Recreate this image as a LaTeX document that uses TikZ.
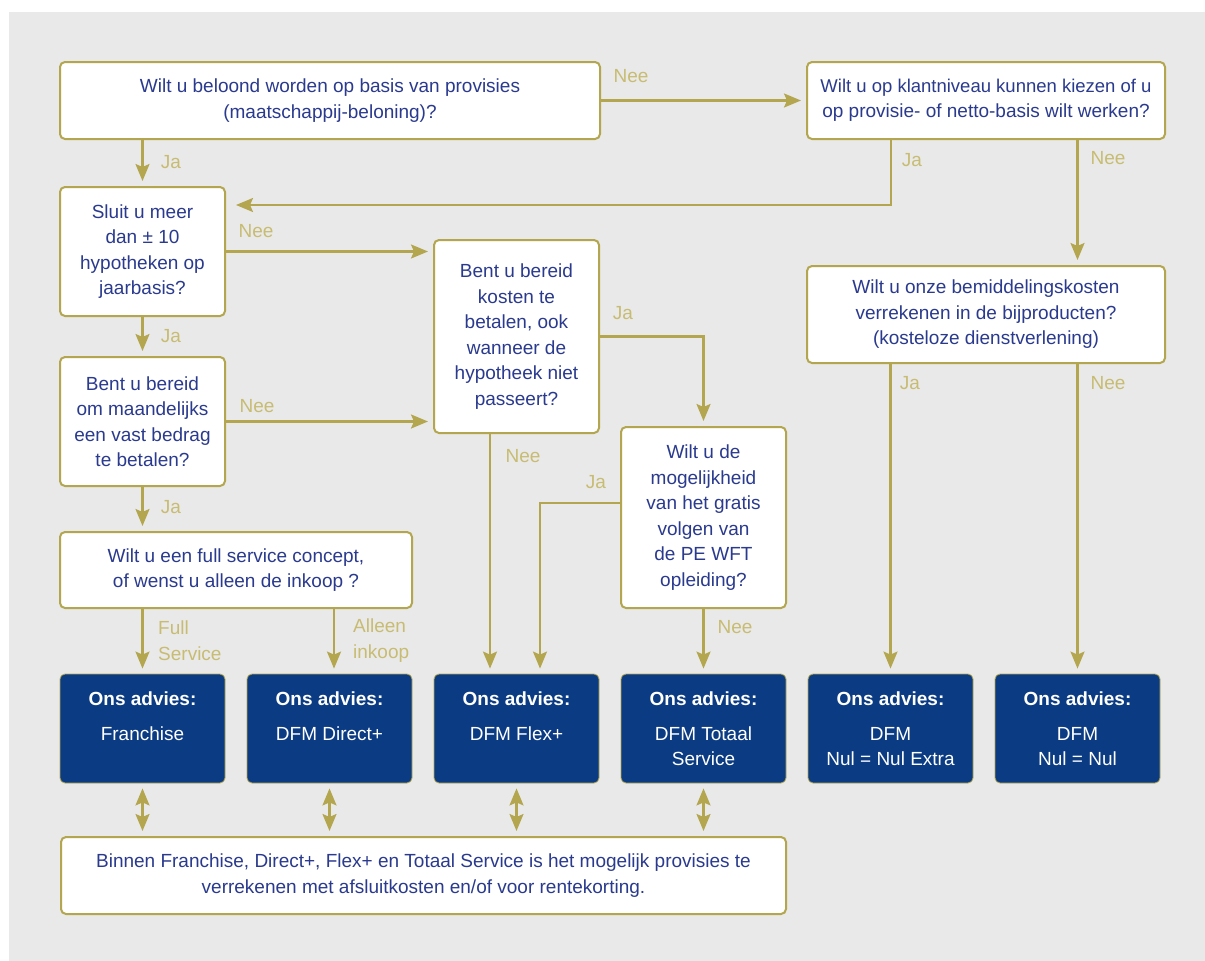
\documentclass[tikz,border=0pt]{standalone}
\usepackage{fontspec}
\setmainfont{Liberation Sans}
\usetikzlibrary{arrows.meta}
\definecolor{bgc}{HTML}{E9E9E9}
\definecolor{gold}{HTML}{B3A64F}
\definecolor{goldtxt}{HTML}{C8BC72}
\definecolor{navy}{HTML}{0B3B82}
\definecolor{qtxt}{HTML}{2A3A8E}
\begin{document}
\begin{tikzpicture}[x=1pt,y=-1pt,
  qbox/.style={draw=gold, line width=2pt, fill=white, rounded corners=5pt, align=center,
    text=qtxt, font=\fontsize{19}{25.5}\selectfont, inner sep=0pt},
  rbox/.style={draw=gold, line width=0.8pt, fill=navy, rounded corners=5pt,
    minimum width=165pt, minimum height=109pt, inner sep=0pt},
  rtext/.style={text=white, align=center, font=\fontsize{19}{25.5}\selectfont, anchor=north, inner sep=0pt},
  tip/.tip={Stealth[length=17pt,width=14pt,inset=3pt]},
  conn/.style={draw=gold, line width=2.1pt, -tip, shorten >=5pt},
  dconn/.style={draw=gold, line width=2.1pt, tip-tip, shorten >=5pt, shorten <=5pt},
  lbl/.style={text=goldtxt, font=\fontsize{19}{25.5}\selectfont, inner sep=0pt}
]
\useasboundingbox (0,0) rectangle (1205,961);
\fill[white] (0,0) rectangle (1205,961);
\fill[bgc] (9,12) rectangle (1205,961);

% question boxes
\node[qbox, minimum width=540pt, minimum height=77pt] (A) at (330,100.5)
  {Wilt u beloond worden op basis van provisies\\(maatschappij-beloning)?};
\node[qbox, minimum width=358pt, minimum height=77pt] (C) at (986,100.5)
  {\fontsize{18.5}{25.5}\selectfont Wilt u op klantniveau kunnen kiezen of u\\op provisie- of netto-basis wilt werken?};
\node[qbox, minimum width=165pt, minimum height=129pt] (B) at (142.5,251.5)
  {Sluit u meer\\dan ± 10\\hypotheken op\\jaarbasis?};
\node[qbox, minimum width=165pt, minimum height=193pt] (D) at (516.5,336.5)
  {Bent u bereid\\kosten te\\betalen, ook\\wanneer de\\hypotheek niet\\passeert?};
\node[qbox, minimum width=358pt, minimum height=97pt] (E) at (986,314.5)
  {Wilt u onze bemiddelingskosten\\verrekenen in de bijproducten?\\(kosteloze dienstverlening)};
\node[qbox, minimum width=165pt, minimum height=129pt] (G) at (142.5,421.5)
  {Bent u bereid\\om maandelijks\\een vast bedrag\\te betalen?};
\node[qbox, minimum width=165pt, minimum height=181pt] (F) at (703.5,517.5)
  {Wilt u de\\mogelijkheid\\van het gratis\\volgen van\\de PE WFT\\opleiding?};
\node[qbox, minimum width=352pt, minimum height=76pt] (H) at (236,570)
  {Wilt u een full service concept,\\of wenst u alleen de inkoop ?};
\node[qbox, minimum width=725pt, minimum height=77pt] (K) at (423.5,875.5)
  {Binnen Franchise, Direct+, Flex+ en Totaal Service is het mogelijk provisies te\\verrekenen met afsluitkosten en/of voor rentekorting.};

% result boxes
\node[rbox] (R1) at (142.5,728.5) {};
\node[rbox] (R2) at (329.5,728.5) {};
\node[rbox] (R3) at (516.5,728.5) {};
\node[rbox] (R4) at (703.5,728.5) {};
\node[rbox] (R5) at (890.5,728.5) {};
\node[rbox] (R6) at (1077.5,728.5) {};
\node[rtext] (t1) at (142.5,692) {\textbf{Ons advies:}\\[9pt]Franchise};
\node[rtext] (t2) at (329.5,692) {\textbf{Ons advies:}\\[9pt]DFM Direct+};
\node[rtext] (t3) at (516.5,692) {\textbf{Ons advies:}\\[9pt]DFM Flex+};
\node[rtext] (t4) at (703.5,692) {\textbf{Ons advies:}\\[9pt]DFM Totaal\\Service};
\node[rtext] (t5) at (890.5,692) {\textbf{Ons advies:}\\[9pt]DFM\\Nul = Nul Extra};
\node[rtext] (t6) at (1077.5,692) {\textbf{Ons advies:}\\[9pt]DFM\\Nul = Nul};

% helper coordinates
\coordinate (cj) at (891,205);
\coordinate (dn) at (490,0);
\coordinate (fj) at (540,503);
\coordinate (hj) at (334,0);

% connectors
\draw[conn] (B.north |- A.south) -- (B.north);
\draw[conn] (A.east) -- (C.west);
\draw[conn, shorten >=10pt] (cj |- C.south) -- (cj) -- (cj -| B.east);
\draw[conn] (R6.north |- C.south) -- (R6.north |- E.north);
\draw[conn] (B.east) -- (B.east -| D.west);
\draw[conn] (B.south) -- (G.north);
\draw[conn] (G.east) -- (G.east -| D.west);
\draw[conn] (G.south) -- (G.south |- H.north);
\draw[conn] (D.east) -| (F.north);
\draw[conn] (dn |- D.south) -- (dn |- R3.north);
\draw[conn] (fj -| F.west) -- (fj) -- (fj |- R3.north);
\draw[conn] (F.south) -- (R4.north);
\draw[conn] (R1.north |- H.south) -- (R1.north);
\draw[conn] (hj |- H.south) -- (hj |- R2.north);
\draw[conn] (R5.north |- E.south) -- (R5.north);
\draw[conn] (R6.north |- E.south) -- (R6.north);
\draw[dconn] (R1.south) -- (R1.south |- K.north);
\draw[dconn] (R2.south) -- (R2.south |- K.north);
\draw[dconn] (R3.south) -- (R3.south |- K.north);
\draw[dconn] (R4.south) -- (R4.south |- K.north);

% labels
\node[lbl] (l1) at (171,162) {Ja};
\node[lbl] (l2) at (631,76) {Nee};
\node[lbl] (l3) at (912,160) {Ja};
\node[lbl] (l4) at (1108,158) {Nee};
\node[lbl] (l5) at (256,231) {Nee};
\node[lbl] (l6) at (171,336) {Ja};
\node[lbl] (l7) at (257,406) {Nee};
\node[lbl] (l8) at (171,507) {Ja};
\node[lbl] (l9) at (623,313) {Ja};
\node[lbl] (l10) at (523,456) {Nee};
\node[lbl] (l11) at (596,482) {Ja};
\node[lbl] (l12) at (735,627) {Nee};
\node[lbl, anchor=west, align=left] (l13) at (158,640.5) {Full\\Service};
\node[lbl, anchor=west, align=left] (l14) at (353,640.5) {Alleen\\inkoop};
\node[lbl] (l15) at (910,383) {Ja};
\node[lbl] (l16) at (1108,383) {Nee};
\end{tikzpicture}
\end{document}
